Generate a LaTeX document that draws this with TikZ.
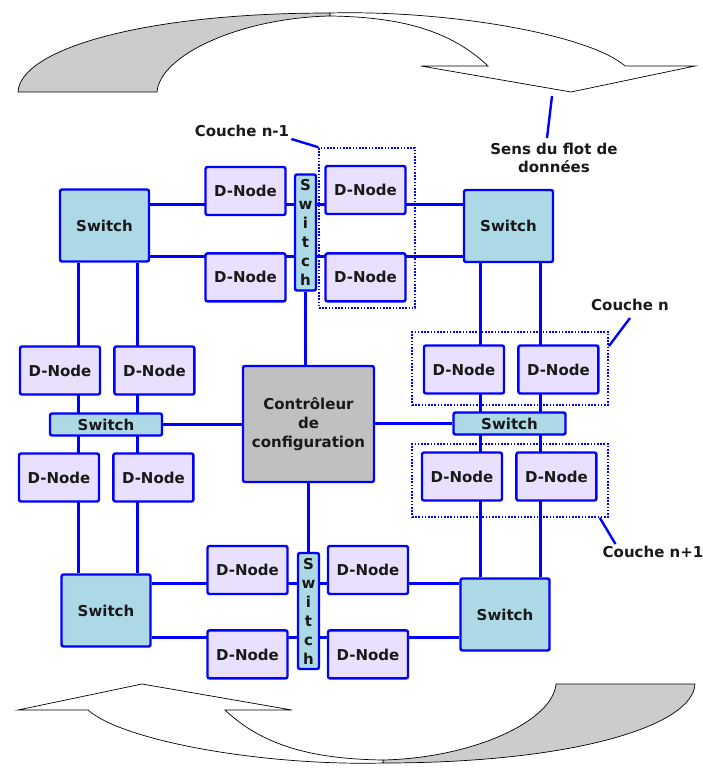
\documentclass[tikz,border=0pt]{standalone}
\usepackage{fontspec}
\newfontfamily\boxfont{DejaVu Sans}
\usetikzlibrary{positioning,backgrounds}

\definecolor{nodefill}{RGB}{232,224,252}
\definecolor{switchfill}{RGB}{173,216,230}
\definecolor{ctrlfill}{RGB}{192,192,192}
\definecolor{backgray}{RGB}{204,204,204}

\tikzset{
	box/.style={draw=blue, line width=2.4pt, rounded corners=2pt, inner sep=0pt, text=black!90,
		font=\boxfont\bfseries\fontsize{15}{19}\selectfont},
	dnode/.style={box, fill=nodefill, minimum width=80pt, minimum height=48pt},
	switch/.style={box, fill=switchfill, minimum width=89pt, minimum height=72pt},
	hswitch/.style={box, fill=switchfill, minimum width=112pt, minimum height=22pt},
	vswitch/.style={box, fill=switchfill, minimum width=21pt, minimum height=116pt, align=center},
	ctrl/.style={box, fill=ctrlfill, minimum width=131pt, minimum height=116pt, align=center},
	link/.style={draw=blue, line width=3pt},
	group/.style={draw=blue, line width=1.6pt, dash pattern=on 1.6pt off 1.6pt, inner sep=0pt},
	leader/.style={draw=blue, line width=2.4pt},
	lbl/.style={inner sep=2pt, text=black!90, align=center,
		font=\boxfont\bfseries\fontsize{15}{18}\selectfont},
	flot/.pic={
		\filldraw[fill=backgray, draw=black, line width=0.7pt]
			(18,92) .. controls (20,50) and (140,13) .. (330,13)
			-- (330,16) .. controls (240,18) and (160,55) .. (157,92) -- cycle;
		\filldraw[fill=white, draw=black, line width=0.7pt]
			(330,13) .. controls (450,10) and (590,35) .. (625,66)
			-- (695,66) -- (571,92) -- (421,66) -- (488,66)
			.. controls (450,30) and (400,17) .. (330,16) -- cycle;
	}
}

\begin{document}
\begin{tikzpicture}[x=1pt, y=-1pt]
	\useasboundingbox (0,0) rectangle (702,776);

	\pic at (0,0) {flot};
	\pic[rotate=180] at (713,776) {flot};

	\node[switch] (s0) at (104.5,225.5) {Switch};
	\node[switch] (s1) at (508.5,226) {Switch};
	\node[switch] (s2) at (106,610.5) {Switch};
	\node[switch] (s3) at (505,614.5) {Switch};

	\node[ctrl] (c0) at (308.5,424) {Contrôleur\\de\\configuration};

	\node[vswitch] (v0) at (305.5,232.5) {S\\w\\i\\t\\c\\h};
	\node[vswitch] (v1) at (308.5,611) {S\\w\\i\\t\\c\\h};
	\node[hswitch] (h0) at (106,424.5) {Switch};
	\node[hswitch] (h1) at (509.5,423.5) {Switch};

	\node[dnode] (a0) at (245.5,191) {D-Node};
	\node[dnode, below=36pt of a0] (a1) {D-Node};
	\node[dnode] (b0) at (365.5,190) {D-Node};
	\node[dnode, below=37pt of b0] (b1) {D-Node};
	\node[dnode] (a2) at (247.5,570) {D-Node};
	\node[dnode, below=34pt of a2] (a3) {D-Node};
	\node[dnode] (b2) at (368,570) {D-Node};
	\node[dnode, below=34pt of b2] (b3) {D-Node};

	\node[dnode] (e0) at (60,370.5) {D-Node};
	\node[dnode, right=12pt of e0] (e1) {D-Node};
	\node[dnode] (e2) at (59,477.5) {D-Node};
	\node[dnode, right=12pt of e2] (e3) {D-Node};
	\node[dnode] (f0) at (464,369.5) {D-Node};
	\node[dnode, right=12pt of f0] (f1) {D-Node};
	\node[dnode] (f2) at (462,476.5) {D-Node};
	\node[dnode, right=12pt of f2] (f3) {D-Node};

	\node[group, minimum width=96pt, minimum height=160pt] (g0) at (367,228) {};
	\node[group, minimum width=196pt, minimum height=73pt] (g1) at (510,368.5) {};
	\node[group, minimum width=196pt, minimum height=73pt] (g2) at (510,480.5) {};

	\node[lbl] (t0) at (242,131) {Couche n-1};
	\node[lbl] (t1) at (630,305) {Couche n};
	\node[lbl] (t2) at (653,552) {Couche n+1};
	\node[lbl] (t3) at (554,158) {Sens du flot de\\données};
	\coordinate (tip) at (552,96);

	\coordinate (r0) at (0,204);
	\coordinate (r1) at (0,256);
	\coordinate (r2) at (0,583);
	\coordinate (r3) at (0,637);
	\coordinate (k0) at (78,0);
	\coordinate (k1) at (137,0);
	\coordinate (k2) at (480,0);
	\coordinate (k3) at (540,0);

	\begin{scope}[on background layer]
		\draw[link] (s0.east |- r0) -- (s1.west |- r0);
		\draw[link] (s0.east |- r1) -- (s1.west |- r1);
		\draw[link] (s2.east |- r2) -- (s3.west |- r2);
		\draw[link] (s2.east |- r3) -- (s3.west |- r3);
		\draw[link] (s0.south -| k0) -- (s2.north -| k0);
		\draw[link] (s0.south -| k1) -- (s2.north -| k1);
		\draw[link] (s1.south -| k2) -- (s3.north -| k2);
		\draw[link] (s1.south -| k3) -- (s3.north -| k3);
		\draw[link] (h0.east) -- (h0.east -| c0.west);
		\draw[link] (h1.west -| c0.east) -- (h1.west);
		\draw[link] (v0.south) -- (v0.south |- c0.north);
		\draw[link] (c0.south) -- (v1.north);
	\end{scope}

	\draw[leader] (t0.south east) -- (g0.north west);
	\draw[leader] ([yshift=-5pt]t1.south) -- ([yshift=-15pt]g1.north east);
	\draw[leader] ([xshift=-9pt]g2.south east) -- ([xshift=15pt]t2.north west);
	\draw[leader] ([xshift=-7pt, yshift=3pt]t3.north) -- (tip);
\end{tikzpicture}
\end{document}
